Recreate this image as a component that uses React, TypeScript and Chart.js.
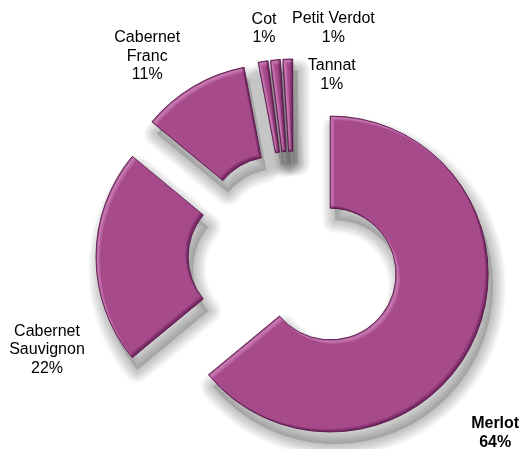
import React, { useEffect, useRef } from 'react';
import { Chart, registerables } from 'chart.js';

Chart.register(...registerables);

// ---- data ----
const varieties = ['Merlot', 'Cabernet Sauvignon', 'Cabernet Franc', 'Cot', 'Petit Verdot', 'Tannat'];
const labelLines = [['Merlot'], ['Cabernet', 'Sauvignon'], ['Cabernet', 'Franc'], ['Cot'], ['Petit Verdot'], ['Tannat']];
const shares = [64, 22, 11, 1, 1, 1];
const boldLabel = [true, false, false, false, false, false];

// ---- label placement (nudge from the outer edge at the slice's mid angle) ----
const labelNudge: [number, number][] = [
  [22, 92],
  [-49, 93],
  [-46, -30],
  [1, -33],
  [58, -32],
  [44, 16],
];

const EXPLODE = 40;
const BASE = '#A64A8C';
const FONT = '"Liberation Sans", Arial, sans-serif';

function arcGeom(el: any) {
  return el.getProps(['x', 'y', 'startAngle', 'endAngle', 'innerRadius', 'outerRadius'], true);
}

function addArc(ctx: CanvasRenderingContext2D, g: any) {
  ctx.moveTo(g.x + Math.cos(g.startAngle) * g.outerRadius, g.y + Math.sin(g.startAngle) * g.outerRadius);
  ctx.arc(g.x, g.y, g.outerRadius, g.startAngle, g.endAngle);
  ctx.arc(g.x, g.y, g.innerRadius, g.endAngle, g.startAngle, true);
  ctx.closePath();
}

const explodePlugin = {
  id: 'explodeSlices',
  afterDatasetUpdate(chart: any, args: any) {
    args.meta.data.forEach((el: any) => {
      const mid = (el.startAngle + el.endAngle) / 2;
      el.x += Math.cos(mid) * EXPLODE;
      el.y += Math.sin(mid) * EXPLODE;
    });
  },
};

const shadePlugin = {
  id: 'shade',
  beforeDatasetsDraw(chart: any) {
    const ctx: CanvasRenderingContext2D = chart.ctx;
    const meta = chart.getDatasetMeta(0);
    ctx.save();
    ctx.translate(5, 12);
    ctx.lineJoin = 'round';
    meta.data.forEach((el: any) => {
      const g = arcGeom(el);
      ctx.beginPath();
      addArc(ctx, g);
      ctx.fillStyle = 'rgba(0,0,0,0.16)';
      ctx.fill();
      for (let w = 26; w >= 2; w -= 2) {
        ctx.beginPath();
        addArc(ctx, g);
        ctx.lineWidth = w;
        ctx.strokeStyle = 'rgba(0,0,0,0.024)';
        ctx.stroke();
      }
    });
    ctx.restore();
  },
  afterDatasetsDraw(chart: any) {
    const ctx: CanvasRenderingContext2D = chart.ctx;
    const meta = chart.getDatasetMeta(0);
    meta.data.forEach((el: any) => {
      const g = arcGeom(el);
      ctx.save();
      ctx.beginPath();
      addArc(ctx, g);
      ctx.clip();
      const outside = (dx: number, dy: number, color: string) => {
        ctx.save();
        ctx.translate(dx, dy);
        ctx.beginPath();
        ctx.rect(-3000, -3000, 7000, 7000);
        addArc(ctx, g);
        ctx.fillStyle = color;
        ctx.fill('evenodd');
        ctx.restore();
      };
      outside(4, 4, 'rgba(255,190,235,0.2)');
      outside(2.4, 2.4, 'rgba(255,190,235,0.25)');
      outside(-3, -3, 'rgba(70,10,55,0.22)');
      outside(-1.6, -1.6, 'rgba(70,10,55,0.35)');
      outside(1, 1, 'rgba(90,25,75,0.35)');
      ctx.restore();

      ctx.save();
      ctx.beginPath();
      addArc(ctx, g);
      ctx.strokeStyle = 'rgba(85,20,70,0.85)';
      ctx.lineWidth = 1;
      ctx.stroke();
      ctx.restore();
    });
  },
};

const labelPlugin = {
  id: 'sliceLabels',
  afterDraw(chart: any) {
    const ctx: CanvasRenderingContext2D = chart.ctx;
    const meta = chart.getDatasetMeta(0);
    const total = shares.reduce((a, b) => a + b, 0);
    ctx.save();
    ctx.fillStyle = '#000';
    ctx.textAlign = 'center';
    ctx.textBaseline = 'middle';
    meta.data.forEach((el: any, i: number) => {
      const g = arcGeom(el);
      const mid = (g.startAngle + g.endAngle) / 2;
      const ax = g.x + Math.cos(mid) * g.outerRadius + labelNudge[i][0];
      const ay = g.y + Math.sin(mid) * g.outerRadius + labelNudge[i][1];
      const lines = [...labelLines[i], Math.round((shares[i] / total) * 100) + '%'];
      const lh = 18.5;
      const top = ay - ((lines.length - 1) * lh) / 2;
      ctx.font = (boldLabel[i] ? 'bold ' : '') + '16px ' + FONT;
      lines.forEach((t, k) => ctx.fillText(t, ax, top + k * lh));
    });
    ctx.restore();
  },
};

export default function App() {
  const ref = useRef<HTMLCanvasElement>(null);
  useEffect(() => {
    if (!ref.current) return;
    const chart = new Chart(ref.current, {
      type: 'doughnut',
      data: {
        labels: varieties,
        datasets: [
          {
            data: shares,
            backgroundColor: BASE,
            borderWidth: 0,
            hoverOffset: 0,
          },
        ],
      },
      options: {
        responsive: true,
        maintainAspectRatio: false,
        animation: false,
        events: [],
        radius: 158,
        cutout: 80,
        layout: { padding: { left: 68, top: 65, right: 0, bottom: 0 } },
        plugins: { legend: { display: false }, tooltip: { enabled: false } },
      } as any,
      plugins: [explodePlugin, shadePlugin, labelPlugin],
    });
    return () => chart.destroy();
  }, []);
  return (
    <div style={{ position: 'fixed', left: 0, top: 0, width: 520, height: 449, background: '#fff' }}>
      <canvas ref={ref} />
    </div>
  );
}
